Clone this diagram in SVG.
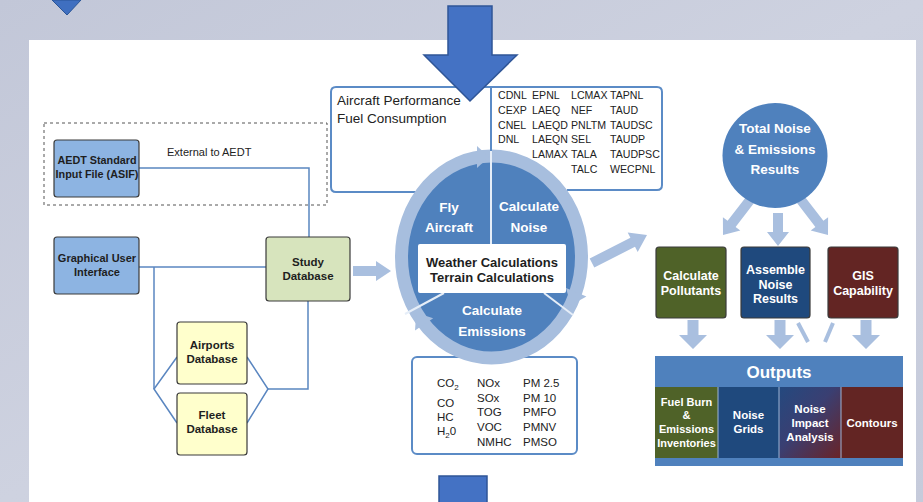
<svg xmlns="http://www.w3.org/2000/svg" width="923" height="502" viewBox="0 0 923 502">
<defs>
<linearGradient id="bg" x1="0" y1="0" x2="1" y2="1">
<stop offset="0" stop-color="#c2c7d8"/>
<stop offset="0.5" stop-color="#ced2e0"/>
<stop offset="1" stop-color="#c6cbdb"/>
</linearGradient>
<linearGradient id="impact" x1="0" y1="0" x2="1" y2="1">
<stop offset="0" stop-color="#24497f"/>
<stop offset="0.45" stop-color="#3a3f72"/>
<stop offset="1" stop-color="#6a2327"/>
</linearGradient>
</defs>
<style>
.box{stroke:#3a3a3a;stroke-width:1.2}
.lbl{font-family:"Liberation Sans",Arial,sans-serif;font-weight:bold;text-anchor:middle}
.wt{fill:#ffffff}
.dk{fill:#1e1e1e}
.reg{font-family:"Liberation Sans",Arial,sans-serif;fill:#222222}
.con{fill:none;stroke:#5a86c0;stroke-width:1.5}
.larr{fill:#a9bfdf}
.big{fill:#4472c4;stroke:#2f5597;stroke-width:1.5}
.frame{fill:#ffffff;stroke:#5b8bc6;stroke-width:2}
</style>

<rect x="0" y="0" width="923" height="502" fill="url(#bg)"/>
<rect x="29" y="40" width="887" height="462" fill="#ffffff"/>
<polygon points="52,0 81,0 67,15" fill="#3f6fc0" stroke="#2a5596" stroke-width="1"/>

<g id="external-group">
<rect x="44" y="123" width="283" height="82" fill="none" stroke="#555555" stroke-width="1" stroke-dasharray="3,3"/>
<text class="reg" x="167" y="156" font-size="11">External to AEDT</text>
</g>

<g id="connectors">
<polyline class="con" points="139,168 309,168 309,237"/>
<line class="con" x1="139" y1="267" x2="266" y2="267"/>
<polyline class="con" points="154,267 154,389"/>
<polyline class="con" points="177,357 154,389 177,423"/>
<polyline class="con" points="247,357 268,389 247,423"/>
<polyline class="con" points="268,389 308,389 308,301"/>
<polygon class="larr" points="353,266 376,266 376,261 391,271 376,281 376,276 353,276"/>
<polygon class="larr" points="589.7,258.5 630.4,237.8 627.7,232.5 647,235 637.7,252.1 635,246.8 594.3,267.5"/>
<polygon class="larr" points="746,196.9 727.6,220.8 722.9,217.2 723,235 740.3,230.6 735.6,227 754,203.1"/>
<polygon class="larr" points="773,213 783,213 783,232 789,232 778,246 767,232 773,232"/>
<polygon class="larr" points="805,196.9 823.4,220.8 828.1,217.2 828,235 810.7,230.6 815.4,227 797,203.1"/>
<polygon class="larr" points="687.5,320 698.5,320 698.5,335 707,335 693,349 679,335 687.5,335"/>
<polygon class="larr" points="774.5,320 785.5,320 785.5,335 794,335 780,349 766,335 774.5,335"/>
<polygon class="larr" points="860.5,320 871.5,320 871.5,335 880,335 866,349 852,335 860.5,335"/>
<line x1="798" y1="323" x2="808" y2="342" stroke="#a9bfdf" stroke-width="4"/>
<line x1="833" y1="323" x2="825" y2="342" stroke="#a9bfdf" stroke-width="4"/>
</g>

<g id="asif">
<rect class="box" x="54" y="140" width="85" height="57" rx="3" fill="#8db4e2"/>
<text class="lbl dk" x="97" y="164" font-size="10.8">AEDT Standard</text>
<text class="lbl dk" x="97" y="178" font-size="10.8">Input File (ASIF)</text>
</g>
<g id="gui">
<rect class="box" x="54" y="237" width="85" height="57" rx="3" fill="#8db4e2"/>
<text class="lbl dk" x="97" y="262" font-size="11">Graphical User</text>
<text class="lbl dk" x="97" y="276" font-size="11">Interface</text>
</g>
<g id="study-db">
<rect class="box" x="266" y="237" width="84" height="64" rx="3" fill="#d7e4bd"/>
<text class="lbl dk" x="308" y="266" font-size="11.5">Study</text>
<text class="lbl dk" x="308" y="280" font-size="11.5">Database</text>
</g>
<g id="airports-db">
<rect class="box" x="177" y="322" width="70" height="62" rx="3" fill="#ffffcc"/>
<text class="lbl dk" x="212" y="349" font-size="11.5">Airports</text>
<text class="lbl dk" x="212" y="363" font-size="11.5">Database</text>
</g>
<g id="fleet-db">
<rect class="box" x="177" y="393" width="70" height="62" rx="3" fill="#ffffcc"/>
<text class="lbl dk" x="212" y="419" font-size="11.5">Fleet</text>
<text class="lbl dk" x="212" y="433" font-size="11.5">Database</text>
</g>

<g id="perf-box">
<path d="M416 192 H336 Q331 192 331 187 V92 Q331 87 336 87 H491" fill="#ffffff" stroke="#5b8bc6" stroke-width="2"/>
<text class="reg" x="337" y="105" font-size="13.5">Aircraft Performance</text>
<text class="reg" x="337" y="123" font-size="13.5">Fuel Consumption</text>
</g>
<g id="metrics-box">
<path d="M491 87 H657 Q662 87 662 92 V185 Q662 190 657 190 H567" fill="#ffffff" stroke="#5b8bc6" stroke-width="2"/>
<g class="reg" font-size="10.6">
<text x="498" y="99">CDNL</text><text x="532" y="99">EPNL</text><text x="571" y="99">LCMAX</text><text x="610" y="99">TAPNL</text>
<text x="498" y="114">CEXP</text><text x="532" y="114">LAEQ</text><text x="571" y="114">NEF</text><text x="610" y="114">TAUD</text>
<text x="498" y="128.5">CNEL</text><text x="532" y="128.5">LAEQD</text><text x="571" y="128.5">PNLTM</text><text x="610" y="128.5">TAUDSC</text>
<text x="498" y="143">DNL</text><text x="532" y="143">LAEQN</text><text x="571" y="143">SEL</text><text x="610" y="143">TAUDP</text>
<text x="532" y="158">LAMAX</text><text x="571" y="158">TALA</text><text x="610" y="158">TAUDPSC</text>
<text x="571" y="173">TALC</text><text x="610" y="173">WECPNL</text>
</g>
</g>
<g id="emissions-box">
<rect class="frame" x="412" y="357" width="165" height="97" rx="5"/>
<g class="reg" font-size="11.5">
<text x="437" y="387">CO<tspan font-size="8" dy="3">2</tspan></text>
<text x="437" y="407">CO</text>
<text x="437" y="421">HC</text>
<text x="437" y="435">H<tspan font-size="8" dy="3">2</tspan><tspan dy="-3">0</tspan></text>
<text x="477" y="387">NOx</text><text x="477" y="401.5">SOx</text><text x="477" y="416">TOG</text><text x="477" y="431">VOC</text><text x="477" y="446">NMHC</text>
<text x="523" y="387">PM 2.5</text><text x="523" y="401.5">PM 10</text><text x="523" y="416">PMFO</text><text x="523" y="431">PMNV</text><text x="523" y="446">PMSO</text>
</g>
</g>

<g id="process-cycle">
<ellipse cx="491.5" cy="257" rx="90" ry="101" fill="#4f81bd" stroke="#a7bede" stroke-width="13"/>
<polygon points="489,157 477,146 477,168" fill="#a7bede"/>
<polygon points="570.8,305.2 586.4,296.5 566,288.1" fill="#a7bede"/>
<polygon points="416.3,312.8 433.2,318.3 415,330.5" fill="#a7bede"/>
<line x1="491" y1="87" x2="491" y2="151" stroke="#5b8bc6" stroke-width="2"/>
<line x1="491" y1="151" x2="491" y2="244" stroke="#e6eef8" stroke-width="2"/>
<line x1="444" y1="293" x2="405" y2="314" stroke="#e6eef8" stroke-width="2"/>
<line x1="544" y1="293" x2="573" y2="315" stroke="#e6eef8" stroke-width="2"/>
<text class="lbl wt" x="449" y="212" font-size="13.5">Fly</text>
<text class="lbl wt" x="449" y="232" font-size="13.5">Aircraft</text>
<text class="lbl wt" x="529" y="211" font-size="13.5">Calculate</text>
<text class="lbl wt" x="529" y="232" font-size="13.5">Noise</text>
<rect x="418" y="244" width="148" height="49" rx="2" fill="#ffffff"/>
<text class="lbl dk" x="492" y="267" font-size="13">Weather Calculations</text>
<text class="lbl dk" x="492" y="282" font-size="13">Terrain Calculations</text>
<text class="lbl wt" x="492" y="315" font-size="13.5">Calculate</text>
<text class="lbl wt" x="492" y="336" font-size="13.5">Emissions</text>
</g>

<g id="total-results">
<circle cx="775" cy="155.5" r="52.5" fill="#4f81bd"/>
<text class="lbl wt" x="775" y="133" font-size="13.5">Total Noise</text>
<text class="lbl wt" x="775" y="154" font-size="13.5">&amp; Emissions</text>
<text class="lbl wt" x="775" y="174" font-size="13.5">Results</text>
</g>
<g id="calc-pollutants">
<rect class="box" x="656" y="247" width="70" height="71" rx="3" fill="#4f6228"/>
<text class="lbl wt" x="691" y="280" font-size="12.5">Calculate</text>
<text class="lbl wt" x="691" y="295" font-size="12.5">Pollutants</text>
</g>
<g id="assemble-noise">
<rect class="box" x="741" y="247" width="69" height="71" rx="3" fill="#1f497d"/>
<text class="lbl wt" x="775.5" y="274" font-size="12.5">Assemble</text>
<text class="lbl wt" x="775.5" y="289" font-size="12.5">Noise</text>
<text class="lbl wt" x="775.5" y="303" font-size="12.5">Results</text>
</g>
<g id="gis">
<rect class="box" x="828" y="247" width="70" height="71" rx="3" fill="#632523"/>
<text class="lbl wt" x="863" y="280" font-size="12.5">GIS</text>
<text class="lbl wt" x="863" y="295" font-size="12.5">Capability</text>
</g>

<g id="outputs">
<rect x="655" y="356" width="248" height="110" fill="#4f81bd"/>
<text class="lbl wt" x="779" y="378" font-size="17">Outputs</text>
<rect x="655" y="387" width="63" height="71" fill="#4f6228"/>
<rect x="718" y="387" width="61" height="71" fill="#1f497d"/>
<rect x="779" y="387" width="62" height="71" fill="url(#impact)"/>
<rect x="841" y="387" width="62" height="71" fill="#632523"/>
<g stroke="#9fb6d6" stroke-width="1"><line x1="718" y1="387" x2="718" y2="458"/><line x1="779" y1="387" x2="779" y2="458"/><line x1="841" y1="387" x2="841" y2="458"/></g>
<text class="lbl wt" x="686.5" y="406" font-size="11">Fuel Burn</text>
<text class="lbl wt" x="686.5" y="419" font-size="11">&amp;</text>
<text class="lbl wt" x="686.5" y="433" font-size="11">Emissions</text>
<text class="lbl wt" x="686.5" y="447" font-size="11">Inventories</text>
<text class="lbl wt" x="748.5" y="419" font-size="11.5">Noise</text>
<text class="lbl wt" x="748.5" y="433" font-size="11.5">Grids</text>
<text class="lbl wt" x="810" y="413" font-size="11.5">Noise</text>
<text class="lbl wt" x="810" y="427" font-size="11.5">Impact</text>
<text class="lbl wt" x="810" y="441" font-size="11.5">Analysis</text>
<text class="lbl wt" x="872" y="427" font-size="11.5">Contours</text>
</g>

<polygon class="big" points="448,6 492,6 492,55 517,55 470,101 424,55 448,55"/>
<rect class="big" x="439" y="476" width="48" height="30"/>
</svg>
